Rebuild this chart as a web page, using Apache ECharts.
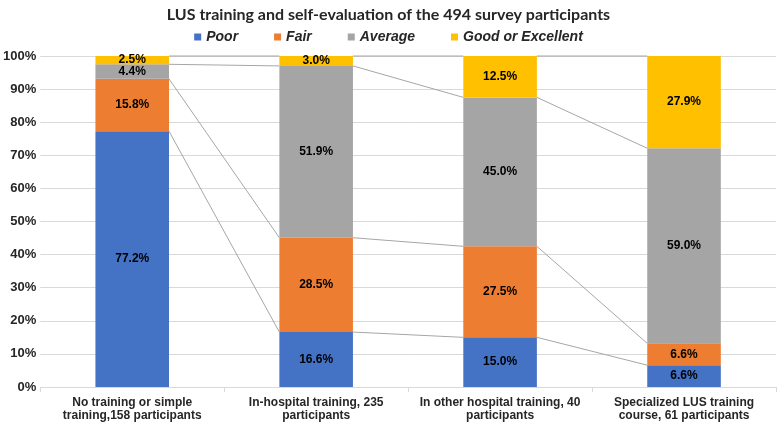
<!DOCTYPE html>
<html>
<head>
<meta charset="utf-8">
<script src="https://cdn.jsdelivr.net/npm/echarts@6/dist/echarts.min.js"></script>
<style>
  html, body { margin: 0; padding: 0; background: #fff; }
  #chart { width: 777px; height: 422px; }
</style>
</head>
<body>
<div id="chart"></div>
<script>
var categories = [
  'No training or simple\ntraining,158 participants',
  'In-hospital training, 235\nparticipants',
  'In other hospital training, 40\nparticipants',
  'Specialized LUS training\ncourse, 61 participants'
];
var seriesNames = ['Poor', 'Fair', 'Average', 'Good or Excellent'];
var poor = [77.2, 16.6, 15.0, 6.6];
var fair = [15.8, 28.5, 27.5, 6.6];
var average = [4.4, 51.9, 45.0, 59.0];
var good = [2.5, 3.0, 12.5, 27.9];
var colors = ['#4472C4', '#ED7D31', '#A5A5A5', '#FFC000'];

var raw = [poor, fair, average, good];
// 100% stacked: normalise each column so it sums to 100
var totals = categories.map(function (c, i) {
  return raw.reduce(function (s, arr) { return s + arr[i]; }, 0);
});
var norm = raw.map(function (arr) {
  return arr.map(function (v, i) { return v / totals[i] * 100; });
});
// cumulative tops per column, per level
var cum = categories.map(function (c, i) {
  var s = 0;
  return norm.map(function (arr) { s += arr[i]; return s; });
});

var myChart = echarts.init(document.getElementById('chart'));

var barSeries = seriesNames.map(function (name, k) {
  return {
    name: name,
    type: 'bar',
    stack: 'total',
    barWidth: '40%',
    itemStyle: { color: colors[k] },
    label: {
      show: true,
      position: 'inside',
      color: '#000',
      fontWeight: 'bold',
      fontSize: 12,
      fontFamily: 'Liberation Sans',
      formatter: function (p) { return raw[k][p.dataIndex].toFixed(1) + '%'; }
    },
    data: norm[k]
  };
});

// Excel-style series lines between the stacked bars
var linkSeries = {
  type: 'custom',
  silent: true,
  z: 1,
  data: [[0], [1], [2]],
  encode: { x: 0 },
  renderItem: function (params, api) {
    var i = api.value(0);
    var half = api.size([1, 0])[0] * 0.4 / 2;
    var children = [];
    for (var k = 0; k < seriesNames.length; k++) {
      var a = api.coord([i, cum[i][k]]);
      var b = api.coord([i + 1, cum[i + 1][k]]);
      children.push({
        type: 'line',
        shape: { x1: a[0] + half, y1: a[1], x2: b[0] - half, y2: b[1] },
        style: { stroke: '#a6a6a6', lineWidth: 1 }
      });
    }
    return { type: 'group', children: children };
  }
};

option = {
  animation: false,
  color: colors,
  title: {
    text: 'LUS training and self-evaluation of the 494 survey participants',
    left: 'center',
    top: 2,
    textStyle: { fontFamily: 'Lato', fontSize: 16, fontWeight: 'bold', color: '#262626' }
  },
  legend: {
    data: seriesNames,
    top: 25,
    left: 'center',
    itemWidth: 7,
    itemHeight: 7,
    itemGap: 36,
    icon: 'rect',
    textStyle: { fontFamily: 'Liberation Sans', fontSize: 14, fontWeight: 'bold', fontStyle: 'italic', color: '#262626' }
  },
  grid: { left: 40, right: 1, top: 56, bottom: 35 },
  xAxis: {
    type: 'category',
    data: categories,
    axisLine: { lineStyle: { color: '#d9d9d9' } },
    axisTick: { show: true, interval: 0, length: 5, lineStyle: { color: '#d9d9d9' } },
    axisLabel: {
      interval: 0,
      fontFamily: 'Liberation Sans',
      fontSize: 12,
      fontWeight: 'bold',
      color: '#262626',
      lineHeight: 13,
      margin: 9
    }
  },
  yAxis: {
    type: 'value',
    min: 0,
    max: 100,
    interval: 10,
    axisLine: { show: false },
    axisTick: { show: false },
    splitLine: { lineStyle: { color: '#d9d9d9' } },
    axisLabel: {
      fontFamily: 'Liberation Sans',
      fontSize: 13,
      fontWeight: 'bold',
      color: '#262626',
      margin: 4,
      formatter: '{value}%'
    }
  },
  series: barSeries.concat([linkSeries])
};

myChart.setOption(option);
</script>
</body>
</html>
